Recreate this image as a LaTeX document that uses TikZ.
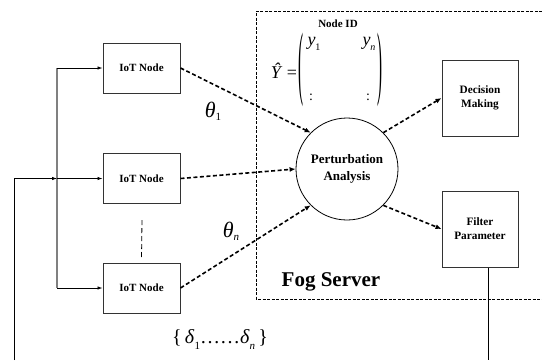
\documentclass[tikz,border=0pt]{standalone}
\usepackage{fontspec}
\setmainfont{Liberation Serif}
\usetikzlibrary{arrows.meta,calc}
\newcommand\sbx[2][11]{\raisebox{-0.3em}{\fontsize{#1}{#1}\selectfont #2}}
\tikzset{
  iotbox/.style={draw=black!80, line width=1pt, minimum width=77pt, minimum height=50pt, inner sep=0pt, font=\fontsize{11}{13}\selectfont\bfseries, align=center},
  sqbox/.style={iotbox, minimum width=76pt, minimum height=76pt, font=\fontsize{11.3}{14}\selectfont\bfseries},
  circ/.style={circle, draw, line width=0.8pt, minimum size=102pt, inner sep=0pt, font=\fontsize{13}{17}\selectfont\bfseries, align=center},
  darr/.style={line width=1.6pt, dash pattern=on 4pt off 2.5pt, -{Latex[length=6pt,width=5pt]}},
  sarr/.style={line width=0.8pt, -{Latex[length=5pt,width=3.5pt]}},
  busline/.style={line width=1.6pt, draw=black!50},
  fogline/.style={line width=0.8pt, dash pattern=on 3pt off 1.5pt},
  fbline/.style={line width=1pt},
  thin dash/.style={line width=0.8pt, dash pattern=on 5pt off 3pt},
  lbl/.style={inner sep=0pt},
  paren/.style={inner sep=0pt, font=\fontsize{18}{18}\selectfont},
}
\begin{document}
\begin{tikzpicture}[x=1pt,y=-1pt]
\useasboundingbox (0,0) rectangle (542,360);
% fog server frame
\draw[fogline] (542,11) -- (256,11) -- (256,299) -- (542,299);
\node[lbl, font=\fontsize{21}{21}\selectfont\bfseries] (fog) at (331,282) {Fog Server};
% IoT nodes
\node[iotbox] (iot1) at (141.5,68) {IoT Node};
\node[iotbox] (iot2) at (141.5,178.5) {IoT Node};
\node[iotbox] (iot3) at (141.5,288) {IoT Node};
% perturbation analysis
\node[circ] (pa) at (347,169) {Perturbation\\Analysis};
% right boxes
\node[sqbox] (dm) at (480,98) {Decision\\Making};
\node[sqbox] (fp) at (480,229) {Filter\\Parameter};
% bus and feedback
\coordinate (b1) at (57,68);
\coordinate (b2) at (57,178.5);
\coordinate (b3) at (57,288);
\coordinate (fbt) at (14,178.5);
\coordinate (fbl) at (14,360);
\coordinate (fpl) at (488,360);
\draw[busline] (b1) -- (b3);
\draw[sarr] (b1) -- (iot1.west);
\draw[sarr] (b2) -- (iot2.west);
\draw[sarr] (b3) -- (iot3.west);
\draw[fbline] (fbl) -- (fbt);
\draw[sarr] (fbt) -- (b2);
\draw[fbline] (fp.south -| fpl) -- (fpl);
% dashed between node 2 and 3
\coordinate (gapTop) at (142,220);
\draw[thin dash] (gapTop) -- ($(iot3.north)+(0,-3)$);
% dashed arrows
\draw[darr] (iot1.east) -- (pa.135);
\draw[darr] (iot2.east) -- (pa.west);
\draw[darr] (iot3.east) -- (pa.225);
\draw[darr] (pa.45) -- (dm.west);
\draw[darr] (pa.-45) -- (fp.west);
% labels
\node[lbl] (th1) at (213,111) {{\fontsize{22}{22}\selectfont\itshape θ}\sbx{1}};
\node[lbl] (thn) at (231,231) {{\fontsize{22}{22}\selectfont\itshape θ}\sbx{\itshape n}};
\node[lbl, font=\fontsize{11}{11}\selectfont\bfseries] (nid) at (338,24) {Node ID};
\node[lbl, font=\fontsize{18}{18}\selectfont] (yhat) at (284,71) {\textit{Ŷ} =};
\node[paren] (lp) at (301,70) {\resizebox*{5pt}{74pt}{(}};
\node[paren] (rp) at (380,70) {\resizebox*{5pt}{74pt}{)}};
\node[lbl, font=\fontsize{18}{18}\selectfont] (y1) at (314,44) {\textit{y}\sbx[10]{1}};
\node[lbl, font=\fontsize{18}{18}\selectfont] (yn) at (369,44) {\textit{y}\sbx[10]{\itshape n}};
\node[lbl, font=\fontsize{14}{14}\selectfont] (c1) at (311,97) {:};
\node[lbl, font=\fontsize{14}{14}\selectfont] (c2) at (368,97) {:};
\node[lbl, font=\fontsize{20}{20}\selectfont] (dl) at (220,340) {\{\,\textit{δ}\sbx{1}……\textit{δ}\sbx{\itshape n}\,\}};
\end{tikzpicture}
\end{document}
